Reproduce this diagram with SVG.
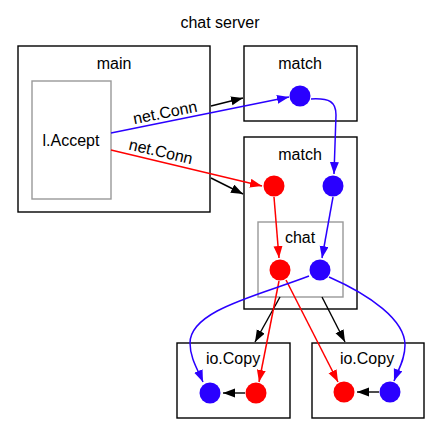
<svg xmlns="http://www.w3.org/2000/svg" width="439" height="434" viewBox="0 0 439 434">
<defs>
<style>
text{font-family:"Liberation Sans",Arial,sans-serif;font-size:16px;fill:#000}
.box{fill:#fff;stroke:#000;stroke-width:1.4}
.gbox{fill:#fff;stroke:#999;stroke-width:1.4}
.blue{fill:#2a00ff}
.red{fill:#ff0000}
.k{fill:none;stroke:#000;stroke-width:1.4}
.b{fill:none;stroke:#2a00ff;stroke-width:1.5}
.r{fill:none;stroke:#ff0000;stroke-width:1.5}
</style>
<marker id="ak" markerUnits="userSpaceOnUse" markerWidth="13" markerHeight="10" refX="12" refY="4.5" orient="auto"><path d="M0,0 L12,4.5 L0,9 z" fill="#000"/></marker>
<marker id="ab" markerUnits="userSpaceOnUse" markerWidth="13" markerHeight="10" refX="12" refY="4.5" orient="auto"><path d="M0,0 L12,4.5 L0,9 z" fill="#2a00ff"/></marker>
<marker id="ar" markerUnits="userSpaceOnUse" markerWidth="13" markerHeight="10" refX="12" refY="4.5" orient="auto"><path d="M0,0 L12,4.5 L0,9 z" fill="#ff0000"/></marker>
</defs>
<rect width="439" height="434" fill="#fff"/>
<text x="220" y="28" text-anchor="middle">chat server</text>
<g id="main">
<rect class="box" x="18" y="46" width="192" height="166"/>
<text x="114" y="69" text-anchor="middle">main</text>
<g id="accept">
<rect class="gbox" x="32" y="81" width="79" height="118"/>
<text x="71" y="146" text-anchor="middle">l.Accept</text>
</g>
</g>
<g id="match1">
<rect class="box" x="244" y="46" width="113" height="75"/>
<text x="300" y="69" text-anchor="middle">match</text>
<circle class="blue" cx="300" cy="96" r="10.5"/>
</g>
<g id="match2">
<rect class="box" x="244" y="137" width="113" height="172"/>
<text x="300" y="160" text-anchor="middle">match</text>
<circle class="red" cx="274" cy="186" r="10.5"/>
<circle class="blue" cx="333" cy="186" r="10.5"/>
<g id="chat">
<rect class="gbox" x="258" y="222" width="85" height="75"/>
<text x="300" y="243" text-anchor="middle">chat</text>
<circle class="red" cx="280" cy="270" r="10.5"/>
<circle class="blue" cx="320" cy="270" r="10.5"/>
</g>
</g>
<g id="copy1">
<rect class="box" x="177" y="343" width="113" height="75"/>
<text x="233" y="364" text-anchor="middle">io.Copy</text>
<circle class="blue" cx="210" cy="393" r="10.5"/>
<circle class="red" cx="256" cy="393" r="10.5"/>
</g>
<g id="copy2">
<rect class="box" x="312" y="343" width="112" height="75"/>
<text x="367" y="364" text-anchor="middle">io.Copy</text>
<circle class="red" cx="344" cy="392" r="10.5"/>
<circle class="blue" cx="390" cy="392" r="10.5"/>
</g>
<g id="connectors">
<path class="k" d="M211,106 L243,98" marker-end="url(#ak)"/>
<path class="k" d="M211,178 L243,194" marker-end="url(#ak)"/>
<path class="k" d="M280,297 L255,342" marker-end="url(#ak)"/>
<path class="k" d="M322,297 L345,342" marker-end="url(#ak)"/>
<path class="k" d="M245,393 L223,393" marker-end="url(#ak)"/>
<path class="k" d="M379,392 L357,392" marker-end="url(#ak)"/>
<path class="b" d="M111,133 L289,97" marker-end="url(#ab)"/>
<path class="r" d="M111,150 L262,186" marker-end="url(#ar)"/>
<path class="b" d="M311,99 C330,98 336,102 336,115 L334,174" marker-end="url(#ab)"/>
<path class="r" d="M274,197 L279,258" marker-end="url(#ar)"/>
<path class="b" d="M333,197 L322,258" marker-end="url(#ab)"/>
<path class="r" d="M279,281 L259,382" marker-end="url(#ar)"/>
<path class="r" d="M286,280 L338,382" marker-end="url(#ar)"/>
<path class="b" d="M309,276 C260,295 190,310 190,343 C190,358 198,370 203,382" marker-end="url(#ab)"/>
<path class="b" d="M329,277 C370,295 405,320 405,345 C405,360 398,370 394,381" marker-end="url(#ab)"/>
<text transform="translate(165,112) rotate(-11.4)" x="0" y="6" text-anchor="middle">net.Conn</text>
<text transform="translate(161,151) rotate(13)" x="0" y="6" text-anchor="middle">net.Conn</text>
</g>
</svg>
